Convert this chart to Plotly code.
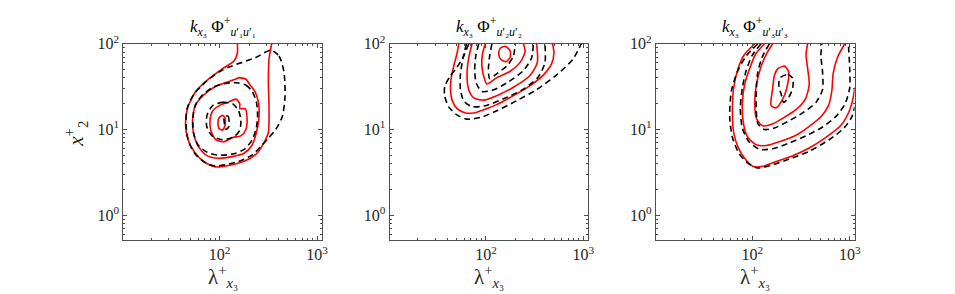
import plotly.graph_objects as go

# contour paths: (lambda_x3+, x2+) pairs
# panel 1 : k Phi_u1u1
p1_red_1 = [(152, 100), (152, 78.5), (141, 63.4), (107, 51.2), (78.3, 39.5), (57.3, 28.1), (47.1, 18.2),
            (44.6, 11.9), (47.1, 7.72), (55.1, 5.47), (68.7, 4.23), (90.4, 3.66), (134, 3.88), (183, 4.31),
            (240, 5.25), (286, 7.08), (316, 9.17), (321, 18.2), (316, 36.3), (321, 66.3), (342, 100)]
p1_red_2 = [(147, 38.9), (158, 40.2), (186, 38.5), (204, 33.3), (231, 27.5), (250, 20.7), (254, 14.7),
            (244, 10.4), (214, 6.5), (176, 5.24), (134, 4.82), (97.7, 4.61), (72.5, 5.02), (59.6, 6.5),
            (53.8, 9.17), (53.0, 14.1), (57.3, 19.9), (69.7, 25.7), (91.6, 31.9), (125, 36.3)]
p1_red_3 = [(99, 19.0), (121, 20.7), (147, 22.6), (161, 19.9), (161, 17.5), (183, 17.5), (191, 13.5),
            (186, 10.0), (165, 8.42), (136, 8.07), (111, 7.21), (91.6, 7.59), (81.5, 9.58), (79.6, 12.9),
            (84.8, 16.5)]
p1_red_4 = [(97.7, 13.5), (107, 14.6), (114, 13.5), (113, 10.9), (106, 9.82), (97.7, 10.4), (96.1, 12.1)]
p1_blk_1 = [(334, 84.2), (406, 72.1), (457, 47.0), (468, 23.6), (439, 14.1), (376, 10.0), (321, 8.05),
            (270, 6.5), (214, 5.02), (156, 4.23), (114, 3.88), (90.4, 3.75), (71.4, 4.08), (56.5, 5.11),
            (48.2, 7.08), (45.3, 10.9), (46.3, 17.5), (54.2, 25.7), (71.4, 35.6), (99.1, 47.0), (125, 53.5),
            (171, 60.7), (235, 69.0)]
p1_blk_2 = [(150, 35), (185, 33), (215, 28), (238, 21), (245, 15), (238, 10.5), (215, 7.5), (180, 5.9),
            (140, 5.2), (100, 5.0), (75, 5.4), (60, 6.6), (54, 9.0), (53, 13), (56, 19), (66, 25), (85, 31),
            (115, 34.5)]
p1_blk_3 = [(84.8, 19.0), (107, 20.7), (136, 19.9), (156, 16.7), (165, 12.9), (161, 9.82), (141, 8.27),
            (107, 7.59), (83.5, 8.42), (73.6, 10.9), (74.2, 14.7)]
p1_blk_4 = [(111, 14.1), (122, 14.3), (125, 12.4), (124, 10.7), (116, 10.0), (112, 11.7)]

# panel 2 : k Phi_u2u2
p2_red_1 = [(52.6, 100), (50.6, 78.5), (46.8, 55.7), (43.9, 39.5), (43.3, 28.1), (45.0, 21.7), (50.6, 17.5),
            (61.5, 15.6), (74.8, 15.6), (94.6, 17.0), (129, 19.5), (177, 23.6), (262, 30.5), (387, 43.1),
            (471, 58.2), (498, 78.5), (482, 100)]
p2_red_2 = [(71.9, 100), (66.5, 68.5), (63.9, 44.6), (66.5, 29.0), (74.8, 23.4), (94.6, 22.0), (129, 24.8),
            (191, 31.1), (283, 42.7), (336, 60.2), (331, 100)]
p2_red_3 = [(98.4, 100), (91.8, 74.7), (91.0, 52.9), (96.2, 39.2), (102, 33.9), (129, 40.2), (177, 47.8),
            (227, 61.8), (252, 81.4), (242, 100)]
p2_red_4 = [(140, 88.6), (157, 93.3), (177, 82.7), (177, 69.7), (161, 61.8), (142, 65.6), (135, 75.9)]
p2_blk_1 = [(66.5, 100), (59.2, 72.1), (50.6, 53.5), (42.6, 41.3), (37.8, 31.9), (37.6, 24.7), (41.6, 18.2),
            (50.6, 14.7), (63.9, 13.2), (87.5, 13.8), (129, 16.5), (207, 21.7), (331, 29.2), (530, 43.1),
            (783, 66.3), (950, 100)]
p2_blk_2 = [(63.0, 100), (58.2, 68.5), (54.7, 44.6), (54.7, 29.0), (59.2, 21.5), (71.9, 18.5), (98.4, 18.9),
            (151, 22.8), (242, 29.5), (344, 40.9), (403, 60.2), (403, 100)]
p2_blk_3 = [(84.2, 100), (78.5, 71.5), (76.6, 48.6), (79.6, 34.4), (91.0, 27.8), (120, 29.0), (170, 35.9),
            (242, 48.6), (294, 68.5), (306, 100)]
p2_blk_4 = [(115, 100), (109, 71.5), (106, 50.7), (109, 39.2), (129, 44.6), (164, 55.3), (191, 71.5), (199, 100)]

# panel 3 : k Phi_u3u3
p3_red_1 = [(106, 100), (83.4, 75.3), (71.3, 51.2), (64.4, 30.5), (62.5, 16.7), (64.4, 9.17), (71.3, 6.23),
            (83.4, 4.61), (101, 3.72), (128, 3.72), (176, 4.23), (260, 4.94), (384, 6.07), (569, 8.07),
            (809, 11.1), (980, 16.0), (1090, 24.0), (1125, 31.0)]
p3_red_2 = [(133, 100), (108, 75.3), (93.8, 51.2), (83.4, 33.3), (79.0, 19.9), (81.5, 11.4), (90.2, 8.07),
            (110, 6.62), (139, 6.5), (190, 7.21), (281, 8.57), (384, 10.9), (506, 14.1), (605, 19.0),
            (655, 28.1), (676, 45.0), (748, 69.2), (889, 100)]
p3_red_3 = [(162, 100), (139, 75.3), (121, 51.2), (110, 33.3), (106, 19.9), (110, 13.5), (126, 11.1),
            (156, 11.4), (205, 13.5), (281, 17.0), (350, 22.6), (384, 33.3), (370, 51.2), (356, 75.3), (370, 100)]
p3_red_4 = [(183, 51.2), (214, 54.8), (236, 47.0), (226, 30.5), (205, 22.6), (176, 17.9), (156, 19.0),
            (162, 30.5), (169, 43.1)]
p3_blk_1 = [(114, 100), (86.7, 72.1), (71.3, 49.0), (61.0, 28.1), (58.6, 14.1), (62.5, 8.07), (73.1, 5.25),
            (90.2, 4.05), (114, 3.56), (156, 3.82), (240, 4.53), (384, 5.57), (615, 7.59), (875, 10.4),
            (1050, 14.0), (1125, 18.5)]
p3_blk_2 = [(123, 100), (100, 73.4), (86.7, 49.0), (79.0, 30.5), (75.3, 17.5), (79.0, 10.4), (92.4, 7.21),
            (119, 5.86), (162, 5.97), (240, 6.97), (356, 8.42), (526, 10.7), (719, 14.1), (895, 19.9),
            (1000, 30.5), (1000, 51.2), (968, 100)]
p3_blk_3 = [(150, 100), (128, 72.1), (114, 47.0), (110, 28.1), (110, 16.7), (114, 11.7), (133, 10.0),
            (169, 10.4), (231, 12.4), (329, 15.6), (450, 20.7), (526, 29.2), (526, 47.0), (506, 72.1), (518, 100)]
p3_blk_4 = [(193, 40.2), (231, 43.8), (260, 39.5), (260, 30.5), (236, 23.6), (209, 20.7), (198, 25.7), (187, 33.3)]

titles = ["<i>k</i><sub><i>x</i>₃</sub> Φ<sup>+</sup><sub><i>u</i>′₁<i>u</i>′₁</sub>",
          "<i>k</i><sub><i>x</i>₃</sub> Φ<sup>+</sup><sub><i>u</i>′₂<i>u</i>′₂</sub>",
          "<i>k</i><sub><i>x</i>₃</sub> Φ<sup>+</sup><sub><i>u</i>′₃<i>u</i>′₃</sub>"]
x_ticks = [100, 1000]
x_ticktext = ["10<sup>2</sup>", "10<sup>3</sup>"]
y_ticks = [1, 10, 100]
y_ticktext = ["10<sup>0</sup>", "10<sup>1</sup>", "10<sup>2</sup>"]

panels = [
    ([p1_red_1, p1_red_2, p1_red_3, p1_red_4], [p1_blk_1, p1_blk_2, p1_blk_3, p1_blk_4], [False, True, True, True], [True, True, True, True]),
    ([p2_red_1, p2_red_2, p2_red_3, p2_red_4], [p2_blk_1, p2_blk_2, p2_blk_3, p2_blk_4], [False, False, False, True], [False, False, False, False]),
    ([p3_red_1, p3_red_2, p3_red_3, p3_red_4], [p3_blk_1, p3_blk_2, p3_blk_3, p3_blk_4], [False, False, False, True], [False, False, False, True]),
]

W, H = 955, 294
FONT = "Liberation Serif"
AX = "#4d4d4d"
left_px = [124, 392, 660]
pw, top_px, bot_px = 200, 34, 238

fig = go.Figure()


def path(pts, closed):
    xs = [p[0] for p in pts]
    ys = [p[1] for p in pts]
    if closed:
        xs.append(xs[0])
        ys.append(ys[0])
    return xs, ys


for i, (reds, blks, red_closed, blk_closed) in enumerate(panels):
    ax = "" if i == 0 else str(i + 1)
    for pts, cl in zip(reds, red_closed):
        xs, ys = path(pts, cl)
        fig.add_trace(go.Scatter(x=xs, y=ys, mode="lines", xaxis="x" + ax, yaxis="y" + ax,
                                 line=dict(color="#ff0000", width=1.6, shape="spline", smoothing=0.7),
                                 showlegend=False, hoverinfo="skip"))
    for pts, cl in zip(blks, blk_closed):
        xs, ys = path(pts, cl)
        fig.add_trace(go.Scatter(x=xs, y=ys, mode="lines", xaxis="x" + ax, yaxis="y" + ax,
                                 line=dict(color="black", width=1.6, dash="6px,4px", shape="spline", smoothing=0.7),
                                 showlegend=False, hoverinfo="skip"))

    common = dict(type="log", showgrid=False, zeroline=False, showline=True, linecolor=AX, linewidth=1,
                  mirror="allticks", ticks="inside", ticklen=4, tickcolor=AX,
                  tickfont=dict(family=FONT, size=16, color="#262626"),
                  minor=dict(ticks="inside", ticklen=2, tickcolor=AX, dtick="D1", showgrid=False))
    fig.layout["xaxis" + ax] = dict(common, range=[1.01, 3.05],
                                    domain=[left_px[i] / W, (left_px[i] + pw) / W],
                                    anchor="y" + ax, tickvals=x_ticks, ticktext=x_ticktext)
    fig.layout["yaxis" + ax] = dict(common, range=[-0.29, 2.0],
                                    domain=[1 - bot_px / H, 1 - top_px / H],
                                    anchor="x" + ax, tickvals=y_ticks, ticktext=y_ticktext)
    cx = (left_px[i] + pw / 2) / W
    fig.add_annotation(x=cx, y=1 - 16 / H, xref="paper", yref="paper", text=titles[i], showarrow=False,
                       xanchor="center", yanchor="middle",
                       font=dict(family=FONT, size=17, color="black"))
    fig.add_annotation(x=cx, y=1 - 276 / H, xref="paper", yref="paper",
                       text="λ<sup>+</sup><sub><i>x</i>₃</sub>", showarrow=False,
                       xanchor="center", yanchor="middle",
                       font=dict(family=FONT, size=21, color="#262626"))

fig.add_annotation(x=76 / W, y=1 - 128 / H, xref="paper", yref="paper", textangle=-90,
                   text="<i>x</i><sup>+</sup><sub>2</sub>", showarrow=False,
                   xanchor="center", yanchor="middle",
                   font=dict(family=FONT, size=21, color="#262626"))

fig.update_layout(width=W, height=H, margin=dict(l=0, r=0, t=0, b=0),
                  paper_bgcolor="white", plot_bgcolor="white")

# pin the graph to the page corner so the page margin does not shift it
pin = ("document.body.style.margin='0';"
       "var d=document.getElementById('{plot_id}');"
       "d.style.position='absolute';d.style.left='0px';d.style.top='0px';")
fig.write_html("out.html", post_script=pin, config={"displayModeBar": False})
